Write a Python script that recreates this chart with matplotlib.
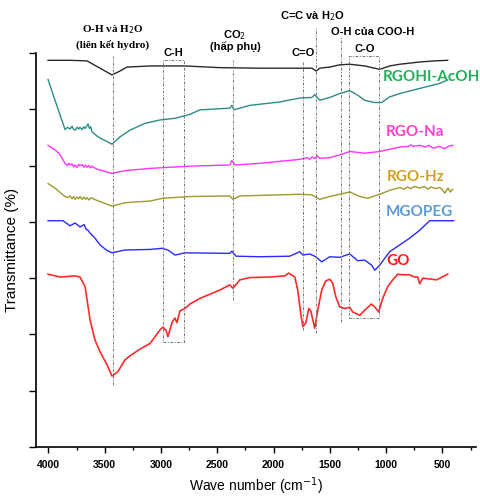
import matplotlib
matplotlib.use("Agg")
import matplotlib.pyplot as plt

# FTIR spectra (wave number in cm-1, transmittance in offset units)
wn_black = [4003, 3807, 3657, 3541, 3435, 3364, 3302, 3097, 2787, 2476, 2121, 1767, 1660,
            1620, 1590, 1501, 1412, 1323, 1190, 1057, 968, 879, 702, 570, 453]
t_black = [6.87, 6.87, 6.86, 6.73, 6.61, 6.68, 6.75, 6.77, 6.77, 6.74, 6.73, 6.73, 6.73,
           6.68, 6.73, 6.75, 6.79, 6.80, 6.77, 6.71, 6.77, 6.80, 6.84, 6.86, 6.87]

wn_teal = [4003, 3941, 3852, 3830, 3807, 3790, 3775, 3763, 3745, 3730, 3719, 3700, 3685,
           3674, 3660, 3648, 3635, 3625, 3612, 3590, 3565, 3541, 3435, 3364, 3275, 3142,
           3009, 2876, 2743, 2654, 2388, 2370, 2352, 2210, 1944, 1767, 1660, 1634, 1589,
           1501, 1412, 1323, 1252, 1190, 1101, 1039, 968, 879, 702, 524, 453]
t_teal = [6.53, 6.16, 5.64, 5.68, 5.65, 5.70, 5.64, 5.63, 5.68, 5.65, 5.68, 5.64, 5.69,
          5.66, 5.70, 5.74, 5.66, 5.69, 5.60, 5.56, 5.52, 5.49, 5.38, 5.51, 5.63, 5.75,
          5.81, 5.84, 5.91, 5.99, 6.02, 6.07, 5.99, 6.07, 6.13, 6.20, 6.21, 6.26, 6.16,
          6.21, 6.28, 6.33, 6.25, 6.16, 6.12, 6.12, 6.22, 6.28, 6.37, 6.46, 6.52]

wn_mag = [4003, 3941, 3896, 3852, 3835, 3820, 3807, 3790, 3775, 3763, 3745, 3730, 3719,
          3700, 3685, 3670, 3657, 3640, 3625, 3610, 3600, 3580, 3560, 3541, 3435, 3319,
          3097, 2743, 2388, 2370, 2343, 2121, 1767, 1700, 1680, 1660, 1634, 1610, 1590,
          1501, 1412, 1323, 1190, 1057, 879, 800, 780, 760, 702, 650, 620, 580, 524, 480,
          440, 408]
t_mag = [5.36, 5.28, 5.19, 5.04, 5.00, 5.04, 5.01, 5.03, 4.98, 5.01, 4.97, 5.02, 5.00,
         5.02, 4.97, 5.01, 4.97, 5.00, 4.96, 4.99, 4.97, 4.95, 4.93, 4.92, 4.86, 4.91,
         4.95, 4.99, 5.01, 5.09, 5.01, 5.04, 5.11, 5.14, 5.11, 5.15, 5.13, 5.17, 5.13,
         5.14, 5.19, 5.25, 5.22, 5.25, 5.33, 5.34, 5.37, 5.34, 5.36, 5.33, 5.36, 5.31,
         5.34, 5.30, 5.35, 5.36]

wn_olive = [4003, 3941, 3852, 3830, 3807, 3790, 3775, 3763, 3745, 3730, 3719, 3700, 3685,
            3670, 3657, 3640, 3620, 3603, 3541, 3435, 3319, 3097, 2982, 2743, 2388, 2361,
            2299, 1767, 1660, 1589, 1501, 1412, 1323, 1234, 1163, 1057, 968, 879, 840,
            810, 780, 750, 702, 660, 630, 600, 560, 524, 500, 479, 450, 430, 408]
t_olive = [4.68, 4.60, 4.45, 4.43, 4.46, 4.41, 4.45, 4.40, 4.44, 4.41, 4.45, 4.40, 4.44,
           4.40, 4.43, 4.39, 4.43, 4.41, 4.36, 4.28, 4.34, 4.37, 4.42, 4.45, 4.46, 4.40,
           4.46, 4.49, 4.48, 4.40, 4.45, 4.49, 4.53, 4.45, 4.42, 4.49, 4.56, 4.61, 4.58,
           4.62, 4.59, 4.63, 4.60, 4.63, 4.58, 4.62, 4.59, 4.61, 4.57, 4.51, 4.60, 4.53,
           4.58]

wn_blue = [4003, 3870, 3807, 3763, 3719, 3683, 3665, 3648, 3630, 3610, 3586, 3541, 3479,
           3435, 3319, 3097, 2991, 2938, 2876, 2787, 2388, 2370, 2334, 2121, 1856, 1767,
           1740, 1678, 1625, 1572, 1501, 1412, 1323, 1252, 1190, 1128, 1101, 1057, 968,
           879, 791, 702, 613, 400]
t_blue = [4.02, 4.02, 3.93, 3.98, 3.91, 3.95, 3.87, 3.85, 3.80, 3.76, 3.71, 3.59, 3.49,
          3.45, 3.50, 3.51, 3.53, 3.50, 3.41, 3.45, 3.44, 3.48, 3.39, 3.38, 3.39, 3.47,
          3.41, 3.43, 3.38, 3.29, 3.38, 3.37, 3.43, 3.31, 3.32, 3.23, 3.14, 3.23, 3.47,
          3.59, 3.71, 3.85, 4.02, 4.02]

wn_red = [4003, 3896, 3763, 3719, 3674, 3630, 3586, 3541, 3479, 3435, 3382, 3319, 3275,
          3186, 3097, 3009, 2982, 2955, 2938, 2902, 2876, 2858, 2831, 2787, 2743, 2654,
          2476, 2388, 2361, 2299, 2210, 2033, 1900, 1865, 1811, 1785, 1758, 1740, 1714,
          1687, 1669, 1634, 1607, 1572, 1536, 1501, 1474, 1447, 1412, 1368, 1323, 1297,
          1234, 1190, 1131, 1101, 1066, 1030, 986, 941, 897, 852, 791, 746, 719, 702, 675,
          551, 453]
t_red = [3.07, 3.02, 3.04, 3.02, 2.85, 2.26, 1.90, 1.69, 1.46, 1.26, 1.34, 1.55, 1.62,
         1.74, 1.84, 2.08, 2.13, 2.07, 1.96, 2.21, 2.29, 2.21, 2.42, 2.46, 2.54, 2.64,
         2.79, 2.88, 2.82, 2.97, 3.01, 3.02, 3.04, 3.09, 3.02, 2.79, 2.37, 2.14, 2.20,
         2.46, 2.42, 2.11, 2.43, 2.79, 2.95, 2.98, 2.91, 2.67, 2.49, 2.46, 2.48, 2.40,
         2.34, 2.43, 2.54, 2.49, 2.40, 2.64, 2.85, 2.97, 3.07, 3.06, 3.06, 3.02, 3.02,
         2.90, 3.00, 2.97, 3.07]

# band markers: (wave number, bottom, top)
band_lines = [(3428, 1.10, 6.95), (2358, 2.61, 6.87), (1737, 2.08, 6.84),
              (1627, 2.02, 7.46), (1403, 2.22, 7.29)]
# band boxes: (left, right, bottom, top)
band_boxes = [(2985, 2796, 1.87, 6.87), (1329, 1063, 2.29, 6.94)]

fig = plt.figure(figsize=(4.8, 5.0), dpi=100)
ax = fig.add_axes([0.075, 0.106, 0.917, 0.788])

ax.plot(wn_black, t_black, color="#2a2a2a", lw=1.0)
ax.plot(wn_teal, t_teal, color="#2e8b8b", lw=1.0)
ax.plot(wn_mag, t_mag, color="#ff33ff", lw=1.0)
ax.plot(wn_olive, t_olive, color="#9a9a2e", lw=1.0)
ax.plot(wn_blue, t_blue, color="#2a2aff", lw=1.0)
ax.plot(wn_red, t_red, color="#ff2a2a", lw=1.2)

dash = (0, (3, 1.5, 1, 1.5))
for x, y0, y1 in band_lines:
    ax.plot([x, x], [y0, y1], color="#777777", lw=0.7, linestyle=dash, clip_on=False)
for x0, x1, y0, y1 in band_boxes:
    ax.plot([x0, x1, x1, x0, x0], [y0, y0, y1, y1, y0], color="#777777", lw=0.7,
            linestyle=dash, clip_on=False)

# band labels
serif = dict(family="Liberation Serif", fontweight="bold", fontsize=8, ha="center",
             va="center", clip_on=False)
sans = dict(family="Liberation Sans", fontweight="bold", fontsize=8, ha="center",
            va="center", clip_on=False)
ax.text(3428, 7.41, "O-H và H$_2$O", **serif)
ax.text(3428, 7.14, "(liên kết hydro)", **serif)
ax.text(2893, 7.00, "C-H", **sans)
ax.text(2343, 7.32, "CO$_2$", **sans)
ax.text(2343, 7.09, "(hấp phụ)", **sans)
ax.text(1651, 7.66, "C=C và H$_2$O", **sans)
ax.text(1119, 7.37, "O-H của COO-H", **sans)
ax.text(1740, 7.00, "C=O", **sans)
ax.text(1190, 7.07, "C-O", **sans)

# sample names
names = ["RGOHI-AcOH", "RGO-Na", "RGO-Hz", "MGOPEG", "GO"]
name_colors = ["#1fae5a", "#ff3fcf", "#d1a022", "#5b9bd5", "#ff1a1a"]
name_x = [1030, 1004, 995, 1004, 995]
name_y = [6.57, 5.60, 4.80, 4.17, 3.30]
for n, c, x, y in zip(names, name_colors, name_x, name_y):
    ax.text(x, y, n, color=c, family="Lato", fontweight="bold", fontsize=11,
            ha="left", va="center", clip_on=False)

ax.set_xlim(4110, 200)
ax.set_ylim(0, 7)
ax.set_xticks([4000, 3500, 3000, 2500, 2000, 1500, 1000, 500])
ax.set_xticks([3750, 3250, 2750, 2250, 1750, 1250, 750, 250], minor=True)
ax.set_yticks(range(8))
ax.set_yticklabels([])
ax.tick_params(axis="x", labelsize=7.5, length=4, width=1, direction="out", pad=5)
ax.tick_params(axis="x", which="minor", length=2.5, width=1)
ax.tick_params(axis="y", length=5, width=1, direction="out")
for lbl in ax.get_xticklabels():
    lbl.set_family("Liberation Sans")
    lbl.set_fontweight("bold")
for s in ["top", "right"]:
    ax.spines[s].set_visible(False)
for s in ["left", "bottom"]:
    ax.spines[s].set_linewidth(1.2)

ax.set_xlabel("Wave number (cm$^{-1}$)", family="Liberation Sans", fontsize=10, labelpad=4)
ax.set_ylabel("Transmittance (%)", family="Liberation Sans", fontsize=11, labelpad=4)

fig.savefig("out.png", dpi=100)
